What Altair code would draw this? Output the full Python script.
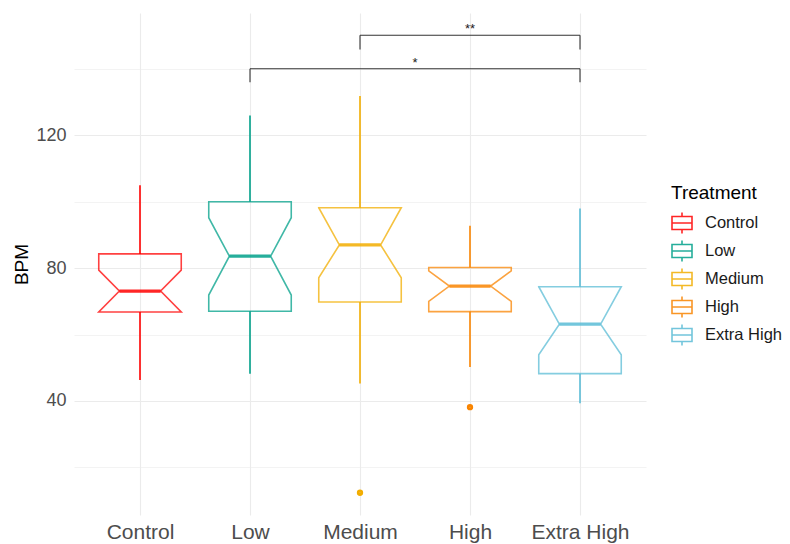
import altair as alt
import pandas as pd

# ---- data ----
categories = ["Control", "Low", "Medium", "High", "Extra High"]
palette = ["#FF0000", "#00A08A", "#F2AD00", "#F98400", "#5BBCD6"]
whisker_low = [46.3, 48.2, 45.2, 50.2, 39.3]
q1 = [66.8, 67.0, 69.8, 66.9, 48.2]
notch_low = [66.8, 71.9, 77.1, 70.0, 53.9]
median = [73.1, 83.6, 87.0, 74.6, 63.1]
notch_high = [79.4, 95.2, 98.2, 79.2, 74.4]
q3 = [84.3, 100.0, 98.2, 80.2, 74.4]
whisker_high = [105.0, 126.0, 131.9, 92.8, 98.0]
outlier_cat = ["Medium", "High"]
outlier_val = [12.3, 38.1]
cmp_from = ["Low", "Medium"]
cmp_to = ["Extra High", "Extra High"]
cmp_label = ["*", "**"]
cmp_top = [140.1, 150.2]
cmp_end = [136.0, 145.9]
y_ticks = [20, 40, 60, 80, 100, 120, 140]

# ---- style ----
FONT = "Liberation Sans"
HW = 0.375    # half box width (in category units)
NW = 0.1875   # half notch width

pos = [i + 1 for i in range(len(categories))]

summary = pd.DataFrame({
    "Treatment": categories, "pos": pos, "lo": whisker_low, "q1": q1,
    "nlo": notch_low, "med": median, "nhi": notch_high, "q3": q3, "hi": whisker_high,
})

rows = []
for i, c in enumerate(categories):
    p = pos[i]
    pts = [(p - HW, q3[i]), (p - HW, notch_high[i]), (p - NW, median[i]),
           (p - HW, notch_low[i]), (p - HW, q1[i]), (p + HW, q1[i]),
           (p + HW, notch_low[i]), (p + NW, median[i]), (p + HW, notch_high[i]),
           (p + HW, q3[i]), (p - HW, q3[i])]
    for k, (x, y) in enumerate(pts):
        rows.append({"Treatment": c, "k": k, "x": x, "y": y})
poly = pd.DataFrame(rows)

outliers = pd.DataFrame({
    "Treatment": outlier_cat,
    "pos": [categories.index(c) + 1 for c in outlier_cat],
    "val": outlier_val,
})

br = pd.DataFrame({
    "x1": [categories.index(c) + 1 for c in cmp_from],
    "x2": [categories.index(c) + 1 for c in cmp_to],
    "label": cmp_label, "top": cmp_top, "end": cmp_end,
})
drops = pd.DataFrame({
    "x": list(br["x1"]) + list(br["x2"]),
    "top": list(br["top"]) * 2,
    "end": list(br["end"]) * 2,
})

xs = alt.Scale(domain=[0.4, 5.6], nice=False, zero=False)
ys = alt.Scale(domain=[5.6, 156.9], nice=False, zero=False)
cs = alt.Scale(domain=categories, range=palette)

label_js = "[" + ",".join("'" + c + "'" for c in categories) + "]"
X_AXIS = alt.Axis(values=pos, labelExpr=label_js + "[datum.value - 1]", title=None,
                  grid=True, ticks=False, domain=False, labelFontSize=21,
                  labelColor="#4D4D4D", labelFont=FONT, labelPadding=6,
                  gridColor="#EBEBEB", gridWidth=1.1)
Y_AXIS = alt.Axis(values=y_ticks, labelExpr="datum.value % 40 === 0 ? datum.label : ''",
                  title="BPM", grid=True, ticks=False, domain=False,
                  labelFontSize=18, labelColor="#4D4D4D", labelFont=FONT, labelPadding=8,
                  gridColor="#EBEBEB",
                  gridWidth=alt.condition("datum.value % 40 === 0", alt.value(1.1), alt.value(0.6)),
                  titleFont=FONT, titleFontSize=19, titleFontWeight="normal",
                  titleColor="#000000", titlePadding=4)

GLYPH = "M-1,-0.65H1V0.65H-1Z M-1,0H1 M0,-0.65V-1.05 M0,0.65V1.05"
LEGEND = alt.Legend(title="Treatment", orient="none", legendX=597, legendY=171,
                    symbolType=GLYPH, symbolSize=400, symbolStrokeWidth=1.6,
                    symbolFillColor="white", symbolOpacity=0.85,
                    labelFont=FONT, labelFontSize=16.5,
                    labelColor="#1A1A1A", titleFont=FONT, titleFontSize=19,
                    titleFontWeight="normal", titleColor="#000000", titlePadding=9,
                    rowPadding=0, labelOffset=12, padding=0)

stroke = alt.Stroke("Treatment:N", scale=cs, legend=LEGEND, sort=categories)

boxes = alt.Chart(poly).mark_line(strokeWidth=1.6, strokeOpacity=0.75,
                                  strokeCap="square", strokeJoin="miter").encode(
    x=alt.X("x:Q", scale=xs, axis=X_AXIS),
    y=alt.Y("y:Q", scale=ys, axis=Y_AXIS),
    stroke=stroke,
    order="k:Q",
)

meds = alt.Chart(summary).transform_calculate(
    xl=f"datum.pos - {NW}", xr=f"datum.pos + {NW}"
).mark_rule(strokeWidth=3.2, strokeOpacity=0.85).encode(
    x=alt.X("xl:Q", scale=xs, axis=X_AXIS), x2="xr:Q",
    y=alt.Y("med:Q", scale=ys, axis=Y_AXIS),
    stroke=stroke,
)

upper = alt.Chart(summary).mark_rule(strokeWidth=1.6).encode(
    x=alt.X("pos:Q", scale=xs, axis=X_AXIS),
    y=alt.Y("q3:Q", scale=ys, axis=Y_AXIS), y2="hi:Q",
    stroke=stroke,
)
lower = alt.Chart(summary).mark_rule(strokeWidth=1.6).encode(
    x=alt.X("pos:Q", scale=xs, axis=X_AXIS),
    y=alt.Y("lo:Q", scale=ys, axis=Y_AXIS), y2="q1:Q",
    stroke=stroke,
)

# outlier dots drawn as thick-stroked tiny points so they share the stroke scale
pts = alt.Chart(outliers).mark_point(size=8, filled=False, strokeWidth=3.5, opacity=1).encode(
    x=alt.X("pos:Q", scale=xs, axis=X_AXIS),
    y=alt.Y("val:Q", scale=ys, axis=Y_AXIS),
    stroke=stroke,
)

hbar = alt.Chart(br).mark_rule(strokeWidth=1.1, color="#333333").encode(
    x=alt.X("x1:Q", scale=xs, axis=X_AXIS), x2="x2:Q",
    y=alt.Y("top:Q", scale=ys, axis=Y_AXIS),
)
vbar = alt.Chart(drops).mark_rule(strokeWidth=1.1, color="#333333").encode(
    x=alt.X("x:Q", scale=xs, axis=X_AXIS),
    y=alt.Y("top:Q", scale=ys, axis=Y_AXIS), y2="end:Q",
)
stars = alt.Chart(br).transform_calculate(
    xm="(datum.x1 + datum.x2) / 2"
).mark_text(fontSize=13, font=FONT, color="#1A1A1A", baseline="bottom", dy=1).encode(
    x=alt.X("xm:Q", scale=xs, axis=X_AXIS),
    y=alt.Y("top:Q", scale=ys, axis=Y_AXIS),
    text="label:N",
)

chart = alt.layer(boxes, meds, upper, lower, pts, hbar, vbar, stars).properties(
    width=572, height=502,
    autosize=alt.AutoSizeParams(type="none"),
    padding={"left": 66, "top": 5, "right": 136, "bottom": 30},
    background="white",
).configure_view(stroke=None)

chart.save("out.html", embed_options={"renderer": "svg", "actions": False})
